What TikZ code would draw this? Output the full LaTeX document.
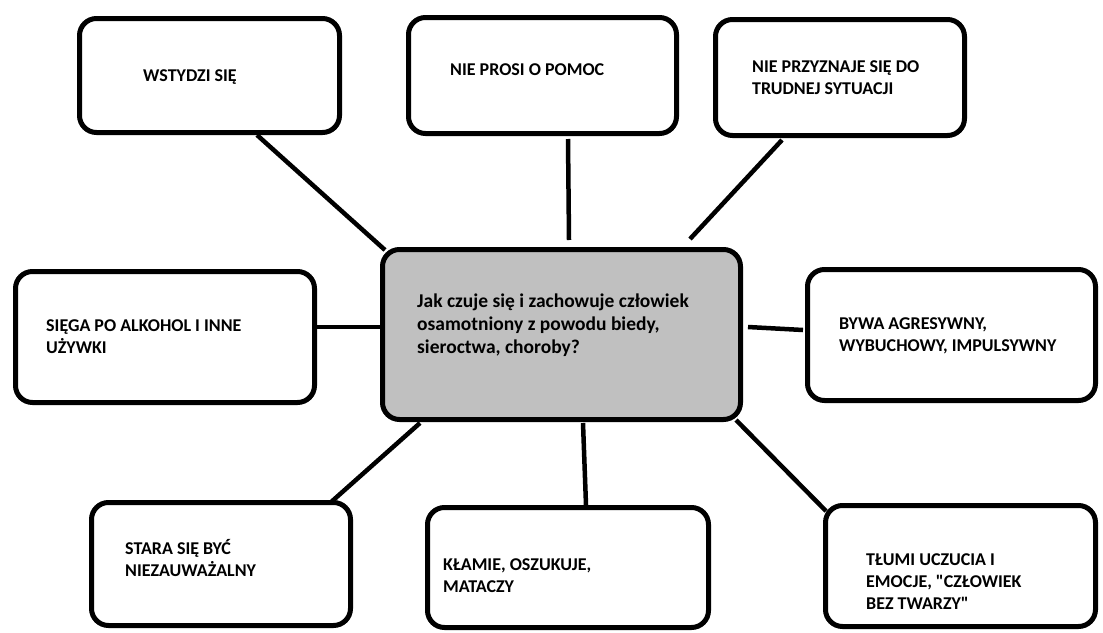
\documentclass[tikz,border=0pt]{standalone}
\usepackage{fontspec}
\setmainfont{Carlito}[Ligatures=TeXOff]
\usepackage{tikz}
\definecolor{hubgray}{RGB}{192,192,192}
\tikzset{
  box/.style={draw, line width=5pt, rounded corners=17pt, fill=white, inner sep=0pt},
  hub/.style={box, fill=hubgray},
  txt/.style={anchor=west, align=left, inner sep=0pt, font=\fontsize{18}{22}\selectfont\bfseries},
  link/.style={line width=4.5pt}
}
\begin{document}
\begin{tikzpicture}[x=1pt, y=-1pt]
  \useasboundingbox (0,0) rectangle (1103,632);
  % boxes: \node[box, minimum width=w, minimum height=h] at (cx,cy) {};
  \node[hub, minimum width=358pt, minimum height=170pt] (hub) at (561.5,334.5) {};
  \node[box, minimum width=260pt, minimum height=114pt] (wstydzi) at (209.5,75.5) {};
  \node[box, minimum width=268pt, minimum height=116pt] (prosi) at (542.5,75.5) {};
  \node[box, minimum width=249pt, minimum height=116pt] (przyznaje) at (840,77.5) {};
  \node[box, minimum width=299pt, minimum height=131pt] (alkohol) at (165,337) {};
  \node[box, minimum width=288pt, minimum height=131pt] (bywa) at (951.5,335) {};
  \node[box, minimum width=259pt, minimum height=123pt] (stara) at (221,564) {};
  \node[box, minimum width=281pt, minimum height=120pt] (klamie) at (568,567.5) {};
  \node[box, minimum width=270pt, minimum height=121pt] (tlumi) at (960.5,566) {};

  % texts
  \node[txt, font=\fontsize{19.5}{23}\selectfont\bfseries] (hubtxt) at (417,325)
    {Jak czuje się i zachowuje człowiek\\osamotniony z powodu biedy,\\sieroctwa, choroby?};
  \node[txt] (wstydzitxt) at (143,77) {WSTYDZI SIĘ};
  \node[txt] (prositxt) at (450,70) {NIE PROSI O POMOC};
  \node[txt] (przyznajetxt) at (752,77.5) {NIE PRZYZNAJE SIĘ DO\\TRUDNEJ SYTUACJI};
  \node[txt] (alkoholtxt) at (46,336.5) {SIĘGA PO ALKOHOL I INNE\\UŻYWKI};
  \node[txt] (bywatxt) at (839,336) {BYWA AGRESYWNY,\\WYBUCHOWY, IMPULSYWNY};
  \node[txt] (staratxt) at (125,558) {STARA SIĘ BYĆ\\NIEZAUWAŻALNY};
  \node[txt] (klamietxt) at (443,576) {KŁAMIE, OSZUKUJE,\\MATACZY};
  \node[txt] (tlumitxt) at (866,582) {TŁUMI UCZUCIA I\\EMOCJE, "CZŁOWIEK\\BEZ TWARZY"};

  % connectors
  \draw[link] ([xshift=47.5pt]wstydzi.south) -- ([xshift=5pt,yshift=-3pt]hub.north west);
  \draw[link] ([xshift=25.5pt,yshift=-3pt]prosi.south) -- ([xshift=7.5pt,yshift=7pt]hub.north);
  \draw[link] ([xshift=-58pt,yshift=-2pt]przyznaje.south) -- ([xshift=-53pt,yshift=8pt]hub.north east);
  \draw[link] ([yshift=10pt]alkohol.east) -- ([yshift=7.5pt]hub.west);
  \draw[link] ([xshift=5pt,yshift=7.5pt]hub.east) -- ([xshift=-2pt,yshift=5pt]bywa.west);
  \draw[link] ([xshift=40pt,yshift=-1pt]hub.south west) -- ([xshift=-23pt,yshift=-3pt]stara.north east);
  \draw[link] ([xshift=21.5pt,yshift=-1pt]hub.south) -- ([xshift=18pt]klamie.north);
  \draw[link] ([xshift=-7pt,yshift=2pt]hub.south east) -- ([xshift=3pt,yshift=-8pt]tlumi.north west);
\end{tikzpicture}
\end{document}
